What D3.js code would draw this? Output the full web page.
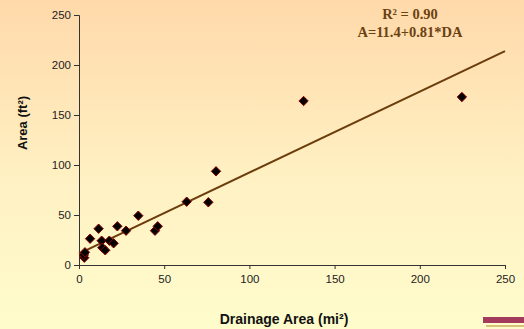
<!DOCTYPE html>
<html>
<head>
<meta charset="utf-8">
<script src="https://cdn.jsdelivr.net/npm/d3@7"></script>
<style>
  body { margin: 0; overflow: hidden; }
  svg { display: block; }
</style>
</head>
<body>
<div id="chart"></div>
<script>
// drainage area (mi2) vs channel area (ft2)
const drainageArea = [3.1, 2.9, 3.5, 6.5, 11.5, 13.3, 13.7, 15.4, 17.8, 20.3, 22.5, 27.6, 34.8, 44.6, 46.2, 63.2, 75.9, 80.4, 131.8, 224.7];
const channelArea = [7.3, 10, 12.7, 26.3, 36.3, 24.3, 17.3, 14.7, 24.3, 21.7, 38.7, 34.3, 49.3, 34.3, 38.7, 63.3, 62.7, 93.7, 164, 168];
const xTicks = [0, 50, 100, 150, 200, 250];
const yTicks = [0, 50, 100, 150, 200, 250];
const fit = { a: 11.4, b: 0.81 };
const fitLabels = ["R\u00b2 = 0.90", "A=11.4+0.81*DA"];

const width = 524, height = 329;
const margin = { top: 15, right: 19, bottom: 64, left: 79 };

const svg = d3.select("#chart").append("svg")
  .attr("width", width)
  .attr("height", height);

// background gradient, peach at top to pale yellow at bottom
const grad = svg.append("defs").append("linearGradient")
  .attr("id", "bg").attr("x1", 0).attr("y1", 0).attr("x2", 0).attr("y2", 1);
grad.append("stop").attr("offset", "0%").attr("stop-color", "#ffd9aa");
grad.append("stop").attr("offset", "55%").attr("stop-color", "#fff1c3");
grad.append("stop").attr("offset", "100%").attr("stop-color", "#fffccc");
svg.append("rect").attr("width", width).attr("height", height).attr("fill", "url(#bg)");

const x = d3.scaleLinear().domain([0, 250]).range([margin.left, width - margin.right]);
const y = d3.scaleLinear().domain([0, 250]).range([height - margin.bottom, margin.top]);

const xAxis = svg.append("g")
  .attr("transform", `translate(0,${y(0)})`)
  .call(d3.axisBottom(x).tickValues(xTicks).tickSize(4).tickPadding(6));
const yAxis = svg.append("g")
  .attr("transform", `translate(${x(0)},0)`)
  .call(d3.axisLeft(y).tickValues(yTicks).tickSize(5).tickPadding(3));

[xAxis, yAxis].forEach(g => {
  g.select(".domain").attr("stroke", "#333");
  g.selectAll(".tick line").attr("stroke", "#333");
  g.selectAll(".tick text")
    .attr("fill", "#222")
    .style("font-family", "Arial, 'Liberation Sans', sans-serif")
    .style("font-size", "11.5px");
});

// trend line
svg.append("line")
  .attr("x1", x(0)).attr("y1", y(fit.a))
  .attr("x2", x(250)).attr("y2", y(fit.a + fit.b * 250))
  .attr("stroke", "#6b3c0c")
  .attr("stroke-width", 2);

// diamond markers
const diamond = d3.symbol().type(d3.symbolDiamond2).size(56);
svg.selectAll(".pt")
  .data(drainageArea.map((d, i) => [d, channelArea[i]]))
  .enter().append("path")
  .attr("class", "pt")
  .attr("d", diamond)
  .attr("transform", d => `translate(${x(d[0])},${y(d[1])})`)
  .attr("fill", "#000")
  .attr("stroke", "#8b0000")
  .attr("stroke-width", 1);

// regression text
svg.selectAll(".fit")
  .data(fitLabels)
  .enter().append("text")
  .attr("x", 410)
  .attr("y", (d, i) => 19 + i * 18)
  .attr("text-anchor", "middle")
  .attr("fill", "#6b4212")
  .style("font-family", "'Times New Roman', 'Liberation Serif', serif")
  .style("font-weight", "bold")
  .style("font-size", "14.5px")
  .text(d => d);

// axis titles
svg.append("text")
  .attr("x", 284).attr("y", 324)
  .attr("text-anchor", "middle")
  .attr("fill", "#111")
  .style("font-family", "Arial, 'Liberation Sans', sans-serif")
  .style("font-weight", "bold")
  .style("font-size", "14px")
  .text("Drainage Area (mi\u00b2)");

svg.append("text")
  .attr("transform", "translate(27,123) rotate(-90)")
  .attr("text-anchor", "middle")
  .attr("fill", "#111")
  .style("font-family", "Arial, 'Liberation Sans', sans-serif")
  .style("font-weight", "bold")
  .style("font-size", "13px")
  .text("Area (ft\u00b2)");

// small logo strip in the corner
svg.append("rect").attr("x", 483).attr("y", 317).attr("width", 41).attr("height", 6).attr("fill", "#a33c5c");
svg.append("rect").attr("x", 486).attr("y", 325).attr("width", 38).attr("height", 2).attr("fill", "#d9c27a");
</script>
</body>
</html>
